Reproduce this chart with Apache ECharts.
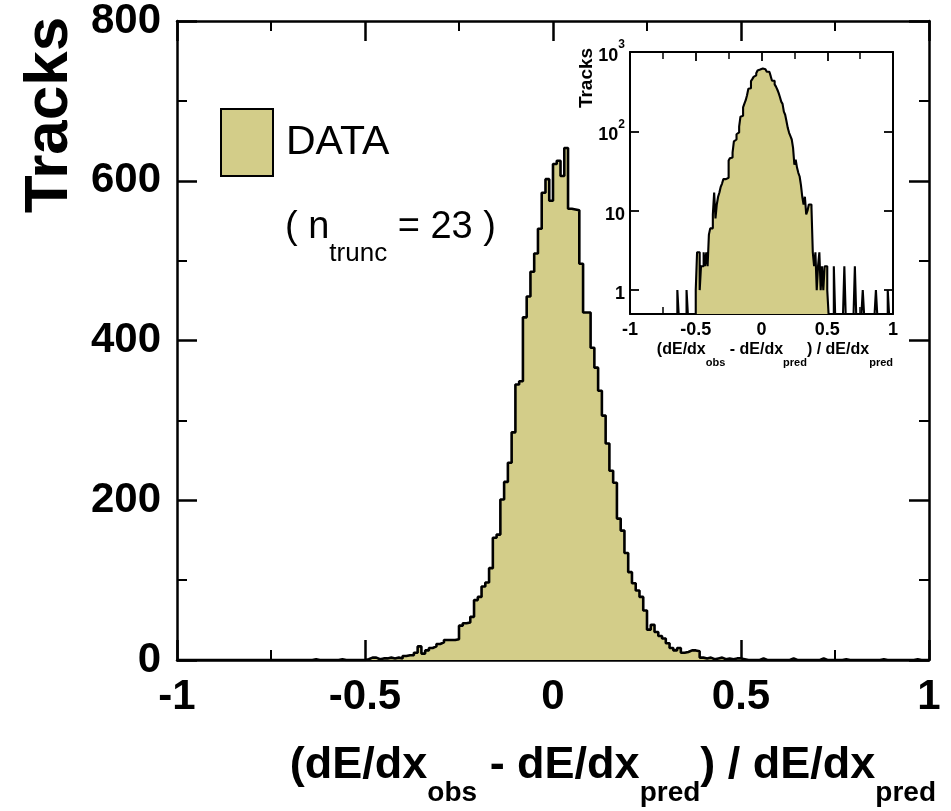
<!DOCTYPE html>
<html><head><meta charset="utf-8">
<script src="https://cdn.jsdelivr.net/npm/echarts@6/dist/echarts.min.js"></script>
<style>html,body{margin:0;padding:0;background:#fff}#c{width:951px;height:811px}</style>
</head><body><div id="c"></div>
<script>
// ---- data ----
const X_MIN = -1, X_MAX = 1, BIN_WIDTH = 0.01;
// Track counts per 0.01 bin, from -1 to 1 (200 bins)
const counts = [
  0,0,0,0,0,0,0,0,0,0, 0,0,0,0,0,0,0,0,0,0,
  0,0,0,0,0,0,0,0,0,0, 0,0,0,0,0,0,1,0,0,0,
  0,0,0,1,0,0,0,0,0,0, 1,3,3,1,2,2,3,2,3,2,
  5,6,6,9,17,8,12,15,17,20, 22,25,25,25,26,43,46,47,54,75,
  79,92,97,115,153,157,201,223,247,285, 345,349,429,455,486,509,540,585,602,575,
  621,625,606,641,565,564,563,496,435,435, 391,366,337,306,271,237,222,177,162,134,
  110,96,87,79,62,38,44,35,30,27, 21,15,12,15,9,10,12,12,11,3,
  2,3,1,2,3,1,2,1,2,2, 1,0,0,0,0,2,0,0,0,0,
  0,0,0,2,0,0,0,0,0,0, 0,2,0,0,0,0,0,1,0,0,
  0,0,0,0,0,0,0,1,0,0, 0,0,0,0,0,0,1,0,0,0
];
const FILL_RANGE = [-0.50, 0.52];     // x-range of the filled histogram
const MAIN_Y = [0, 800, 200];         // min, max, interval
const MAIN_X = [-1, 1, 0.5];
const INSET_Y = [0.5, 1000];          // log axis range
const LEGEND_LABEL = 'DATA';
const N_TRUNC = 23;

// ---- build ----
const FONT = "'Liberation Sans', Arial, Helvetica, sans-serif";
const FILL = '#d3cd89';
function stepData(vals) {
  const d = [];
  for (let i = 0; i < vals.length; i++) d.push([+(X_MIN + i * BIN_WIDTH).toFixed(4), vals[i]]);
  d.push([X_MAX, vals[vals.length - 1]]);
  return d;
}
const fillVals = counts.map((c, i) => {
  const lo = X_MIN + i * BIN_WIDTH;
  return (lo >= FILL_RANGE[0] - 1e-9 && lo < FILL_RANGE[1] - 1e-9) ? c : 0;
});
const logLine = counts.map(c => Math.max(c, INSET_Y[0]));
const logFill = fillVals.map(c => Math.max(c, INSET_Y[0]));

function axisCommon(opts) {
  return Object.assign({
    type: 'value',
    axisLine: { show: true, onZero: false, lineStyle: { color: '#000', width: 2.5 } },
    axisTick: { show: true, inside: true, length: 20, lineStyle: { color: '#000', width: 2.5 } },
    minorTick: { show: true, splitNumber: 2, length: 10, lineStyle: { color: '#000', width: 2 } },
    splitLine: { show: false }, minorSplitLine: { show: false },
    axisLabel: { show: false }
  }, opts);
}
const mainLabel = { show: true, fontSize: 42, fontWeight: 'bold', color: '#000', fontFamily: FONT };

const chart = echarts.init(document.getElementById('c'), null, { renderer: 'canvas' });
const insetTick = { show: true, inside: true, length: 9, lineStyle: { color: '#000', width: 1.8 } };
const insetMinor = { show: true, splitNumber: 2, length: 7, lineStyle: { color: '#000', width: 1.5 } };
const insetLine = { show: true, onZero: false, lineStyle: { color: '#000', width: 2 } };

chart.setOption({
  animation: false,
  backgroundColor: '#fff',
  grid: [
    { left: 177, right: 22, top: 20, bottom: 151 },
    { left: 630, width: 263, top: 52, height: 262 }
  ],
  legend: {
    left: 215, top: 103, itemWidth: 52, itemHeight: 67, selectedMode: false,
    data: [{ name: LEGEND_LABEL, icon: 'rect', itemStyle: { color: FILL, borderColor: '#000', borderWidth: 2 } }],
    textStyle: { fontSize: 41, fontFamily: FONT, color: '#000', padding: [28, 0, 0, 8] }
  },
  xAxis: [
    axisCommon({ gridIndex: 0, position: 'bottom', min: MAIN_X[0], max: MAIN_X[1], interval: MAIN_X[2],
      axisLabel: Object.assign({ margin: 16 }, mainLabel) }),
    axisCommon({ gridIndex: 0, position: 'top', min: MAIN_X[0], max: MAIN_X[1], interval: MAIN_X[2] }),
    axisCommon({ gridIndex: 1, position: 'bottom', min: MAIN_X[0], max: MAIN_X[1], interval: MAIN_X[2],
      axisLine: insetLine, axisTick: insetTick, minorTick: insetMinor,
      axisLabel: { show: true, margin: 7, fontSize: 18, fontWeight: 'bold', color: '#000', fontFamily: FONT } }),
    axisCommon({ gridIndex: 1, position: 'top', min: MAIN_X[0], max: MAIN_X[1], interval: MAIN_X[2],
      axisLine: insetLine, axisTick: insetTick, minorTick: insetMinor })
  ],
  yAxis: [
    axisCommon({ gridIndex: 0, position: 'left', min: MAIN_Y[0], max: MAIN_Y[1], interval: MAIN_Y[2],
      axisLabel: Object.assign({ margin: 16 }, mainLabel) }),
    axisCommon({ gridIndex: 0, position: 'right', min: MAIN_Y[0], max: MAIN_Y[1], interval: MAIN_Y[2] }),
    { gridIndex: 1, type: 'log', logBase: 10, position: 'left', min: INSET_Y[0], max: INSET_Y[1],
      axisLine: insetLine, axisTick: insetTick, minorTick: { show: false },
      splitLine: { show: false },
      axisLabel: { show: true, margin: 5, color: '#000', fontFamily: FONT,
        formatter: v => {
          if (v < 1) return '';
          if (v < 2) return '{b|1}';
          if (v < 20) return '{b|10}';
          return '{b|10}{s|' + Math.round(Math.log10(v)) + '}';
        },
        rich: {
          b: { fontSize: 18, fontWeight: 'bold', fontFamily: FONT, color: '#000', lineHeight: 26, verticalAlign: 'bottom' },
          s: { fontSize: 12, fontWeight: 'bold', fontFamily: FONT, color: '#000', lineHeight: 20, verticalAlign: 'top' }
        } } },
    { gridIndex: 1, type: 'log', logBase: 10, position: 'right', min: INSET_Y[0], max: INSET_Y[1],
      axisLine: insetLine, axisTick: insetTick, minorTick: { show: false },
      splitLine: { show: false }, axisLabel: { show: false } }
  ],
  series: [
    { name: LEGEND_LABEL, type: 'line', xAxisIndex: 0, yAxisIndex: 0, step: 'end', symbol: 'none',
      data: stepData(fillVals), lineStyle: { width: 0, opacity: 0 }, itemStyle: { color: FILL },
      areaStyle: { color: FILL, opacity: 1 }, z: 2 },
    { name: 'outline', type: 'line', xAxisIndex: 0, yAxisIndex: 0, step: 'end', symbol: 'none',
      data: stepData(counts), lineStyle: { color: '#000', width: 2.6 }, z: 3 },
    { name: 'insetFill', type: 'line', xAxisIndex: 2, yAxisIndex: 2, step: 'end', symbol: 'none',
      data: stepData(logFill), lineStyle: { width: 0, opacity: 0 },
      areaStyle: { color: FILL, opacity: 1 }, z: 2 },
    { name: 'insetOutline', type: 'line', xAxisIndex: 2, yAxisIndex: 2, step: 'end', symbol: 'none',
      data: stepData(logLine), lineStyle: { color: '#000', width: 2.1 }, z: 3 }
  ],
  graphic: [
    { type: 'text', x: 50, y: 115, rotation: Math.PI / 2,
      style: { text: 'Tracks', fontSize: 62, fontWeight: 'bold', fontFamily: FONT, fill: '#000', align: 'center', verticalAlign: 'middle' } },
    { type: 'text', x: 936, y: 743,
      style: { text: '{m|(dE/dx}{s|obs}{m| - dE/dx}{s|pred}{m|) / dE/dx}{s|pred}', align: 'right', verticalAlign: 'top',
        rich: {
          m: { fontSize: 45, fontWeight: 'bold', fontFamily: FONT, fill: '#000', lineHeight: 50, verticalAlign: 'top' },
          s: { fontSize: 28, fontWeight: 'bold', fontFamily: FONT, fill: '#000', lineHeight: 64, verticalAlign: 'bottom' }
        } } },
    { type: 'text', x: 587, y: 78, rotation: Math.PI / 2,
      style: { text: 'Tracks', fontSize: 19, fontWeight: 'bold', fontFamily: FONT, fill: '#000', align: 'center', verticalAlign: 'middle' } },
    { type: 'text', x: 893, y: 342,
      style: { text: '{m|(dE/dx}{s|obs}{m| - dE/dx}{s|pred}{m|) / dE/dx}{s|pred}', align: 'right', verticalAlign: 'top',
        rich: {
          m: { fontSize: 16, fontWeight: 'bold', fontFamily: FONT, fill: '#000', lineHeight: 20, verticalAlign: 'top' },
          s: { fontSize: 11, fontWeight: 'bold', fontFamily: FONT, fill: '#000', lineHeight: 26, verticalAlign: 'bottom' }
        } } },
    { type: 'text', x: 285, y: 209,
      style: { text: '{m|( n}{s|trunc}{m| = ' + N_TRUNC + ' )}', align: 'left', verticalAlign: 'top',
        rich: {
          m: { fontSize: 38, fontFamily: FONT, fill: '#000', lineHeight: 44, verticalAlign: 'top' },
          s: { fontSize: 26, fontFamily: FONT, fill: '#000', lineHeight: 58, verticalAlign: 'bottom' }
        } } }
  ]
});
</script></body></html>
